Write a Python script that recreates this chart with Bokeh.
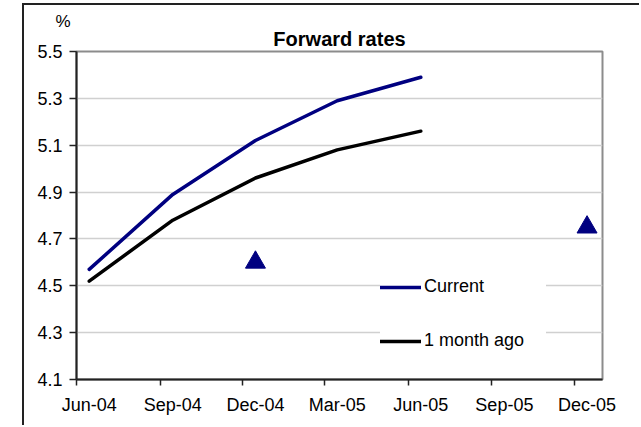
from datetime import datetime
from bokeh.plotting import figure
from bokeh.models import (Range1d, FixedTicker, PrintfTickFormatter, Legend, LegendItem,
                          Title)
from bokeh.embed import file_html
from bokeh.resources import INLINE

# ---- data ----
dates = ["15-Jun-04", "15-Sep-04", "15-Dec-04", "15-Mar-05", "15-Jun-05"]
current = [4.57, 4.89, 5.12, 5.29, 5.39]
month_ago = [4.52, 4.78, 4.96, 5.08, 5.16]
marker_dates = ["15-Dec-04", "15-Dec-05"]
marker_values = [4.60, 4.75]
x_tick_labels = ["Jun-04", "Sep-04", "Dec-04", "Mar-05", "Jun-05", "Sep-05", "Dec-05"]
y_ticks = [4.1, 4.3, 4.5, 4.7, 4.9, 5.1, 5.3, 5.5]

EPOCH = datetime(1970, 1, 1)
def ms(s):
    return int((datetime.strptime(s, "%d-%b-%y") - EPOCH).total_seconds() * 1000)

x_cur = [ms(d) for d in dates]
x_mark = [ms(d) for d in marker_dates]
label_pos = [ms("15-" + t) for t in x_tick_labels]
tick_pos = [ms("1-" + t) for t in x_tick_labels]

FONT = "Liberation Sans"

p = figure(width=617, height=422, output_backend="svg", toolbar_location=None,
           x_axis_type="datetime",
           x_range=Range1d(ms("1-Jun-04"), ms("1-Jan-06")),
           y_range=Range1d(4.1, 5.5),
           min_border_left=52, min_border_right=39, min_border_top=46, min_border_bottom=48,
           background_fill_color="white", border_fill_color="white")
p.styles = {"margin-left": "22px", "margin-top": "3px",
            "border-left": "2px solid #222", "border-top": "2px solid #222"}

# unit label "%" (outermost title)
p.title.text = "%"
p.title.align = "left"
p.title.offset = -21
p.title.standoff = -12
p.title.text_font = FONT
p.title.text_font_size = "17px"
p.title.text_font_style = "normal"
p.title.text_color = "black"

# main title (nearest to the frame)
p.add_layout(Title(text="Forward rates", align="center", offset=-5, standoff=3,
                   text_font=FONT, text_font_size="20px", text_font_style="bold",
                   text_color="black"), "above")

p.outline_line_color = "#8c8c8c"
p.outline_line_width = 2

# x axis
xa = p.xaxis[0]
xa.ticker = FixedTicker(ticks=label_pos, minor_ticks=tick_pos)
xa.major_label_overrides = {k: v for k, v in zip(label_pos, x_tick_labels)}
xa.major_tick_line_color = None
xa.major_tick_out = 0
xa.major_tick_in = 0
xa.minor_tick_line_color = "#222"
xa.minor_tick_line_width = 1.5
xa.minor_tick_out = 6
xa.minor_tick_in = 0
xa.major_label_standoff = 9
xa.major_label_text_font = FONT
xa.major_label_text_font_size = "18px"
xa.major_label_text_color = "black"
xa.axis_line_color = "#222"
xa.axis_line_width = 2

# y axis
ya = p.yaxis[0]
ya.ticker = FixedTicker(ticks=y_ticks)
ya.formatter = PrintfTickFormatter(format="%.1f")
ya.major_tick_out = 7
ya.major_tick_in = 0
ya.major_tick_line_color = "#222"
ya.major_tick_line_width = 1.5
ya.minor_tick_line_color = None
ya.major_label_standoff = 7
ya.major_label_text_font = FONT
ya.major_label_text_font_size = "18px"
ya.major_label_text_color = "black"
ya.axis_line_color = "#222"
ya.axis_line_width = 2

p.xgrid.grid_line_color = None
p.ygrid.grid_line_color = "#d0d0d0"
p.ygrid.grid_line_width = 1.5

r_cur = p.line(x_cur, current, line_color="#000080", line_width=3.5,
               line_cap="round", line_join="round")
r_ago = p.line(x_cur, month_ago, line_color="black", line_width=3.5,
               line_cap="round", line_join="round")
p.scatter(x_mark, marker_values, marker="triangle", size=20,
          fill_color="#000080", line_color="#000080")

legend = Legend(items=[LegendItem(label="Current", renderers=[r_cur]),
                       LegendItem(label="1 month ago", renderers=[r_ago])],
                location=(304, 28), margin=0, padding=19, spacing=33,
                glyph_width=41, glyph_height=20, label_height=20, label_width=122,
                label_standoff=3, border_line_color=None,
                background_fill_color="white", background_fill_alpha=1.0,
                label_text_font=FONT, label_text_font_size="18px",
                label_text_color="black")
p.add_layout(legend)

open("out.html", "w").write(file_html(p, INLINE))
